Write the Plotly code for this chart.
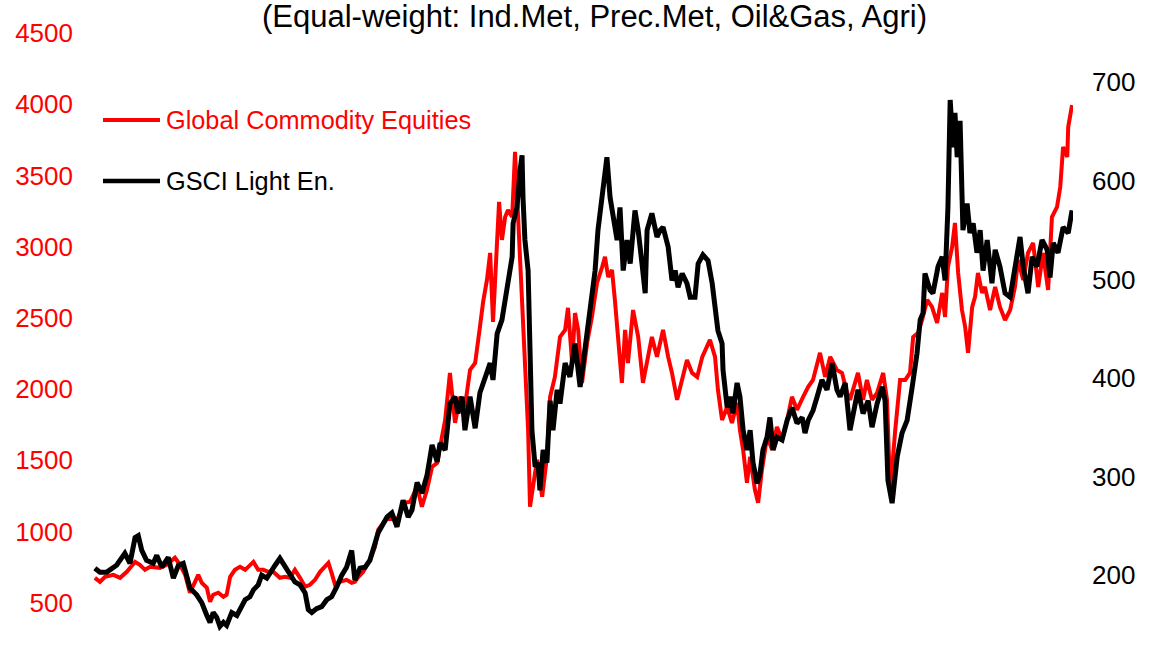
import plotly.graph_objects as go
from plotly.subplots import make_subplots

# ---------------- data ----------------
# time as decimal years
red_t = [1995.09,1995.25,1995.41,1995.67,1995.88,1996.09,1996.35,1996.50,1996.66,1996.82,
         1997.13,1997.34,1997.60,1997.76,1997.92,1998.07,1998.23,1998.33,1998.44,1998.60,
         1998.70,1998.80,1998.96,1999.12,1999.22,1999.33,1999.48,1999.64,1999.80,1999.90,
         2000.06,2000.21,2000.37,2000.53,2000.68,2000.89,2001.05,2001.21,2001.36,2001.52,
         2001.68,2001.83,2001.99,2002.15,2002.30,2002.41,2002.51,2002.62,2002.77,2002.98,
         2003.14,2003.24,2003.35,2003.50,2003.71,2003.87,2003.97,2004.25,2004.56,2004.81,
         2004.97,2005.19,2005.34,2005.50,2005.66,2005.82,2005.97,2006.07,2006.22,2006.38,
         2006.54,2006.69,2006.85,2007.01,2007.16,2007.26,2007.38,2007.48,2007.57,2007.70,
         2007.76,2007.85,2007.95,2008.04,2008.17,2008.26,2008.35,2008.48,2008.57,2008.67,
         2008.73,2008.82,2008.95,2009.11,2009.26,2009.36,2009.51,2009.67,2009.83,2009.92,
         2010.05,2010.14,2010.24,2010.36,2010.52,2010.67,2010.83,2010.99,2011.08,2011.18,
         2011.30,2011.39,2011.49,2011.61,2011.71,2011.80,2011.96,2012.12,2012.27,2012.40,
         2012.55,2012.71,2012.90,2013.06,2013.18,2013.34,2013.50,2013.65,2013.81,2013.97,
         2014.13,2014.28,2014.37,2014.53,2014.62,2014.75,2014.91,2015.06,2015.22,2015.31,
         2015.41,2015.53,2015.63,2015.78,2015.88,2016.00,2016.16,2016.32,2016.47,2016.63,
         2016.79,2016.94,2017.10,2017.29,2017.45,2017.60,2017.82,2017.98,2018.14,2018.35,
         2018.51,2018.67,2018.76,2019.01,2019.17,2019.29,2019.45,2019.61,2019.80,2019.92,
         2020.02,2020.17,2020.33,2020.49,2020.64,2020.74,2020.89,2021.02,2021.18,2021.33,
         2021.49,2021.65,2021.74,2021.83,2021.96,2022.05,2022.15,2022.27,2022.37,2022.46,
         2022.59,2022.68,2022.77,2022.90,2022.99,2023.15,2023.31,2023.46,2023.62,2023.78,
         2023.93,2024.03,2024.19,2024.34,2024.50,2024.66,2024.81,2024.97,2025.09,2025.25,
         2025.35,2025.44,2025.57,2025.60,2025.72]
commodity_equities = [674,646,681,695,674,716,786,765,730,751,
         744,765,815,765,695,569,646,695,639,604,
         506,555,569,541,555,681,730,751,730,751,
         786,730,730,716,716,674,681,674,730,674,
         611,625,660,716,751,779,709,625,646,660,
         639,646,681,716,800,891,1011,1095,1081,1201,
         1208,1313,1173,1292,1453,1481,1664,1783,2113,1762,
         1945,1875,2134,2183,2436,2612,2766,2956,2471,3096,
         3314,3047,3208,3257,3208,3665,3236,2647,2204,1713,
         1173,1313,1503,1243,1524,1945,2085,2366,2415,2570,
         2183,2534,2415,2043,2324,2506,2745,2857,2928,2787,
         2836,2626,2366,2043,2415,2183,2555,2366,2043,2183,
         2366,2226,2415,2226,2113,1924,2064,2204,2113,2085,
         2226,2296,2345,2226,1994,1783,1875,1762,1903,1713,
         1573,1341,1524,1292,1201,1432,1664,1573,1734,1643,
         1783,1945,1854,1945,2015,2064,2254,2085,2226,2134,
         2113,1973,1924,2113,1924,2064,1924,1973,2113,1924,
         1271,1692,2064,2064,2113,2366,2394,2485,2626,2577,
         2464,2675,2506,2857,2998,3166,2815,2555,2436,2254,
         2577,2647,2815,2675,2717,2555,2717,2577,2485,2555,
         2717,2906,2766,2956,3026,2717,2956,2696,3208,3279,
         3419,3700,3630,3840,3995]

black_t = [1995.09,1995.25,1995.46,1995.77,1996.03,1996.19,1996.35,1996.45,1996.56,1996.71,
           1996.92,1997.03,1997.19,1997.39,1997.55,1997.71,1997.86,1997.97,1998.07,1998.28,
           1998.44,1998.60,1998.70,1998.80,1998.91,1999.01,1999.12,1999.22,1999.38,1999.54,
           1999.64,1999.80,1999.95,2000.06,2000.21,2000.32,2000.48,2000.58,2000.74,2000.89,
           2001.05,2001.21,2001.36,2001.52,2001.68,2001.78,2001.89,2002.04,2002.20,2002.36,
           2002.51,2002.67,2002.83,2002.98,2003.14,2003.24,2003.40,2003.56,2003.71,2003.87,
           2003.97,2004.25,2004.40,2004.56,2004.75,2004.91,2005.03,2005.19,2005.34,2005.50,
           2005.66,2005.82,2005.91,2006.07,2006.22,2006.38,2006.47,2006.60,2006.69,2006.85,
           2007.01,2007.16,2007.32,2007.48,2007.57,2007.70,2007.85,2007.95,2008.04,2008.17,
           2008.20,2008.32,2008.42,2008.48,2008.51,2008.57,2008.67,2008.73,2008.79,2008.89,
           2008.98,2009.04,2009.14,2009.26,2009.36,2009.45,2009.58,2009.67,2009.83,2009.98,
           2010.14,2010.30,2010.39,2010.52,2010.61,2010.77,2010.86,2010.99,2011.08,2011.14,
           2011.24,2011.33,2011.46,2011.55,2011.65,2011.77,2011.87,2012.02,2012.12,2012.24,
           2012.34,2012.40,2012.55,2012.71,2012.81,2012.90,2013.06,2013.18,2013.28,2013.37,
           2013.50,2013.65,2013.75,2013.90,2014.00,2014.15,2014.31,2014.44,2014.53,2014.62,
           2014.75,2014.78,2014.91,2015.00,2015.09,2015.22,2015.31,2015.41,2015.53,2015.63,
           2015.72,2015.85,2015.94,2016.03,2016.16,2016.25,2016.35,2016.47,2016.63,2016.79,
           2016.94,2017.10,2017.26,2017.35,2017.45,2017.60,2017.73,2017.88,2018.04,2018.20,
           2018.35,2018.45,2018.61,2018.76,2019.01,2019.17,2019.33,2019.45,2019.61,2019.77,
           2019.86,2019.95,2020.08,2020.24,2020.39,2020.55,2020.71,2020.86,2020.96,2021.05,
           2021.11,2021.27,2021.36,2021.52,2021.65,2021.74,2021.83,2021.90,2021.99,2022.05,
           2022.12,2022.21,2022.30,2022.43,2022.52,2022.62,2022.74,2022.84,2022.93,2023.06,
           2023.21,2023.31,2023.46,2023.62,2023.78,2023.93,2024.09,2024.19,2024.34,2024.47,
           2024.62,2024.78,2024.94,2025.03,2025.13,2025.28,2025.44,2025.60,2025.72]
gsci_light_energy = [207,203,203,210,222,212,238,240,225,215,
           212,220,208,218,197,210,212,198,187,180,
           172,159,152,162,157,148,152,149,162,159,
           166,175,178,185,190,200,197,203,210,217,
           208,200,193,190,182,165,162,166,168,175,
           178,188,200,208,225,195,207,208,215,232,
           243,259,263,249,276,259,266,294,283,301,
           332,315,334,327,374,381,364,381,347,381,
           349,385,400,415,398,445,459,479,502,523,
           557,573,611,626,583,540,509,431,347,310,
           314,286,327,314,377,347,388,374,415,401,
           435,391,415,441,469,509,550,583,608,624,
           583,567,540,573,509,540,516,570,550,516,
           486,550,567,543,550,553,533,499,509,492,
           506,496,482,482,516,525,519,496,476,448,
           435,408,370,381,364,395,381,347,327,347,
           314,293,303,327,340,360,327,340,337,357,
           370,354,360,344,357,367,381,398,388,415,
           388,381,395,347,388,364,377,350,374,391,
           377,296,273,320,344,357,391,425,459,466,
           506,489,486,513,523,499,573,682,634,669,
           624,661,550,577,547,557,527,550,509,540,
           496,530,513,486,482,513,543,513,486,523,
           513,540,530,502,537,527,553,547,570]

names = ["Global Commodity Equities", "GSCI Light En."]
title_text = "(Equal-weight: Ind.Met, Prec.Met, Oil&Gas, Agri)"
left_ticks = [500, 1000, 1500, 2000, 2500, 3000, 3500, 4000, 4500]
right_ticks = [200, 300, 400, 500, 600, 700]

# ---------------- figure ----------------
FONT = "Liberation Sans, Arial, sans-serif"
RED = "#ff0000"
BLACK = "#000000"

fig = make_subplots(specs=[[{"secondary_y": True}]])
fig.add_trace(go.Scatter(x=red_t, y=commodity_equities, name=names[0], mode="lines",
                         line=dict(color=RED, width=4), showlegend=False),
              secondary_y=False)
fig.add_trace(go.Scatter(x=black_t, y=gsci_light_energy, name=names[1], mode="lines",
                         line=dict(color=BLACK, width=5), showlegend=False),
              secondary_y=True)

W, H = 1165, 650
ML, MR, MT, MB = 92, 92, 33, 0
pw, ph = W - ML - MR, H - MT - MB

def px(xp):
    return (xp - ML) / pw

def py(yp):
    return 1 - (yp - MT) / ph

fig.update_layout(
    width=W, height=H,
    margin=dict(l=ML, r=MR, t=MT, b=MB, pad=0, autoexpand=False),
    paper_bgcolor="white", plot_bgcolor="white",
    font=dict(family=FONT, color=BLACK),
    showlegend=False,
)
fig.update_xaxes(domain=[0, 1], range=[1995.0, 2025.75], showticklabels=False, showgrid=False,
                 zeroline=False, showline=False, ticks="", automargin=False)
fig.update_yaxes(domain=[0, 1], range=[167, 4500.5], tickvals=left_ticks, showgrid=False,
                 zeroline=False, showline=False, ticks="", ticklabelstandoff=18,
                 automargin=False, tickfont=dict(family=FONT, size=26, color=RED),
                 secondary_y=False)
fig.update_yaxes(range=[124, 750], tickvals=right_ticks, showgrid=False, zeroline=False,
                 showline=False, ticks="", ticklabelstandoff=18, automargin=False,
                 tickfont=dict(family=FONT, size=26, color=BLACK), secondary_y=True)

# title (sits at the very top edge in the reference)
fig.add_annotation(text=title_text, xref="paper", yref="paper", x=px(594), y=py(17),
                   xanchor="center", yanchor="middle", showarrow=False,
                   font=dict(family=FONT, size=31, color=BLACK))

# legend drawn inside the plot
leg_rows = [(120, RED, 4), (181, BLACK, 4.5)]
for (yy, col, lw), nm in zip(leg_rows, names):
    fig.add_shape(type="line", xref="paper", yref="paper", x0=px(103), x1=px(160),
                  y0=py(yy), y1=py(yy), line=dict(color=col, width=lw))
    fig.add_annotation(text=nm, xref="paper", yref="paper", x=px(164), y=py(yy),
                       xanchor="left", yanchor="middle", showarrow=False,
                       font=dict(family=FONT, size=25.3, color=col))

fig.write_html("out.html")
